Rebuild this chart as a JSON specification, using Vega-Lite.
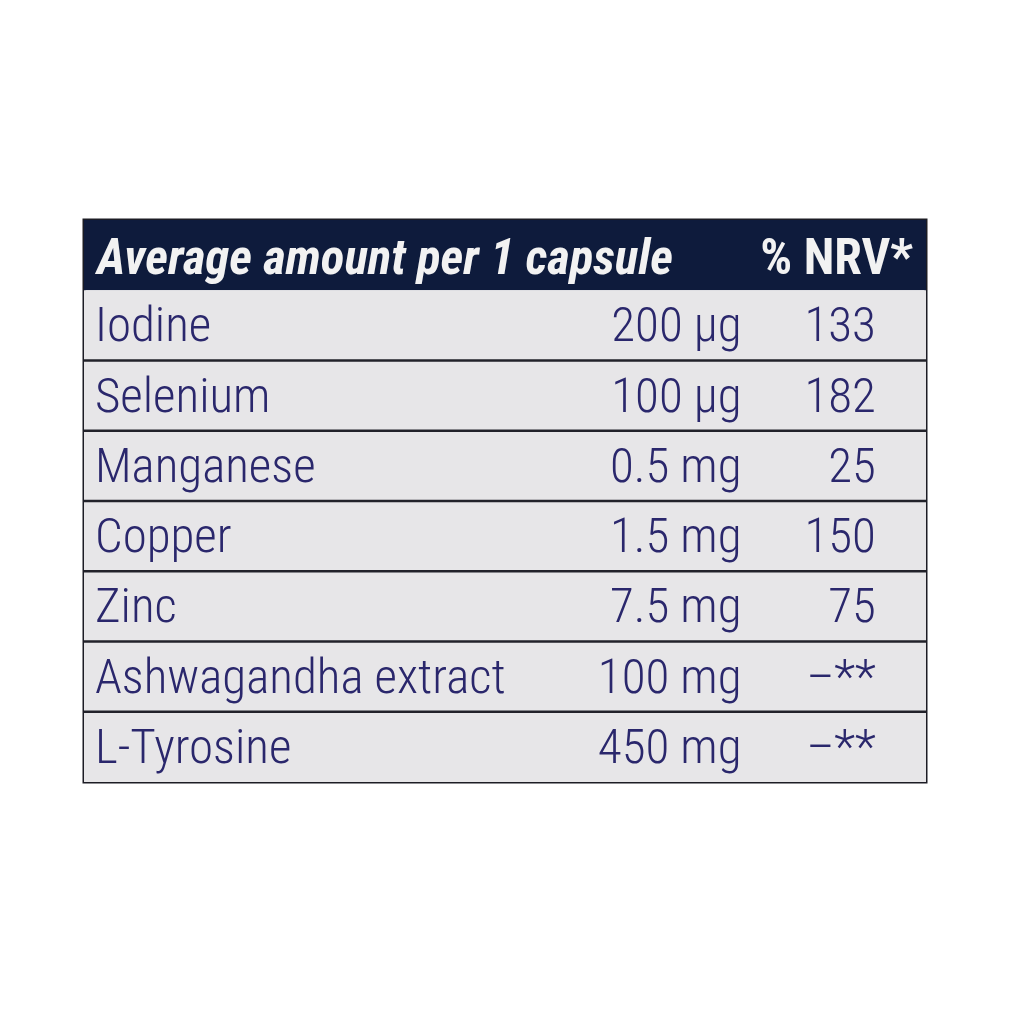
{
  "$schema": "https://vega.github.io/schema/vega-lite/v6.json",
  "width": 1024,
  "height": 1024,
  "autosize": {"type": "fit", "contains": "padding"},
  "padding": {"left": 82, "top": 220, "right": 96, "bottom": 242},
  "background": "#ffffff",
  "config": {
    "view": {"stroke": "#1c1c24", "strokeWidth": 3},
    "text": {"font": "Roboto Condensed, DejaVu Sans Condensed, sans-serif"}
  },
  "data": {
    "values": [
      {"row": 0, "kind": "header", "name": "Average amount per 1 capsule", "amount": "", "nrv": "% NRV*"},
      {"row": 1, "kind": "item", "name": "Iodine", "amount": "200 µg", "nrv": "133"},
      {"row": 2, "kind": "item", "name": "Selenium", "amount": "100 µg", "nrv": "182"},
      {"row": 3, "kind": "item", "name": "Manganese", "amount": "0.5 mg", "nrv": "25"},
      {"row": 4, "kind": "item", "name": "Copper", "amount": "1.5 mg", "nrv": "150"},
      {"row": 5, "kind": "item", "name": "Zinc", "amount": "7.5 mg", "nrv": "75"},
      {"row": 6, "kind": "item", "name": "Ashwagandha extract", "amount": "100 mg", "nrv": "–**"},
      {"row": 7, "kind": "item", "name": "L-Tyrosine", "amount": "450 mg", "nrv": "–**"}
    ]
  },
  "encoding": {
    "y": {"field": "row", "type": "ordinal", "axis": null, "scale": {"paddingInner": 0, "paddingOuter": 0}}
  },
  "layer": [
    {
      "mark": {"type": "rect"},
      "encoding": {
        "x": {"datum": 0, "type": "quantitative", "scale": {"domain": [0, 1]}, "axis": null},
        "x2": {"datum": 1},
        "color": {"field": "kind", "type": "nominal", "scale": {"domain": ["header", "item"], "range": ["#0e1b3c", "#e7e6e8"]}, "legend": null}
      }
    },
    {
      "transform": [{"filter": "datum.row >= 2"}],
      "mark": {"type": "rule", "stroke": "#22222a", "strokeWidth": 2.5},
      "encoding": {
        "y": {"field": "row", "type": "ordinal", "bandPosition": 0},
        "x": {"datum": 0, "type": "quantitative"},
        "x2": {"datum": 1}
      }
    },
    {
      "transform": [{"filter": "datum.kind == 'item'"}],
      "mark": {"type": "text", "align": "left", "baseline": "alphabetic", "dy": 16, "fontSize": 49, "fontWeight": 300, "color": "#2a276c"},
      "encoding": {"x": {"datum": 0.013, "type": "quantitative"}, "text": {"field": "name"}}
    },
    {
      "transform": [{"filter": "datum.kind == 'item'"}],
      "mark": {"type": "text", "align": "right", "baseline": "alphabetic", "dy": 16, "fontSize": 49, "fontWeight": 300, "color": "#2a276c"},
      "encoding": {"x": {"datum": 0.781, "type": "quantitative"}, "text": {"field": "amount"}}
    },
    {
      "transform": [{"filter": "datum.kind == 'item'"}],
      "mark": {"type": "text", "align": "right", "baseline": "alphabetic", "dy": 16, "fontSize": 49, "fontWeight": 300, "color": "#2a276c"},
      "encoding": {"x": {"datum": 0.9405, "type": "quantitative"}, "text": {"field": "nrv"}}
    },
    {
      "transform": [{"filter": "datum.kind == 'header'"}],
      "mark": {"type": "text", "align": "left", "baseline": "alphabetic", "dy": 19, "fontSize": 49, "fontWeight": "bold", "fontStyle": "italic", "color": "#f2f2f2"},
      "encoding": {"x": {"datum": 0.0154, "type": "quantitative"}, "text": {"field": "name"}}
    },
    {
      "transform": [{"filter": "datum.kind == 'header'"}],
      "mark": {"type": "text", "align": "right", "baseline": "alphabetic", "dy": 19, "fontSize": 50, "fontWeight": "bold", "color": "#f2f2f2"},
      "encoding": {"x": {"datum": 0.9846, "type": "quantitative"}, "text": {"field": "nrv"}}
    }
  ]
}
